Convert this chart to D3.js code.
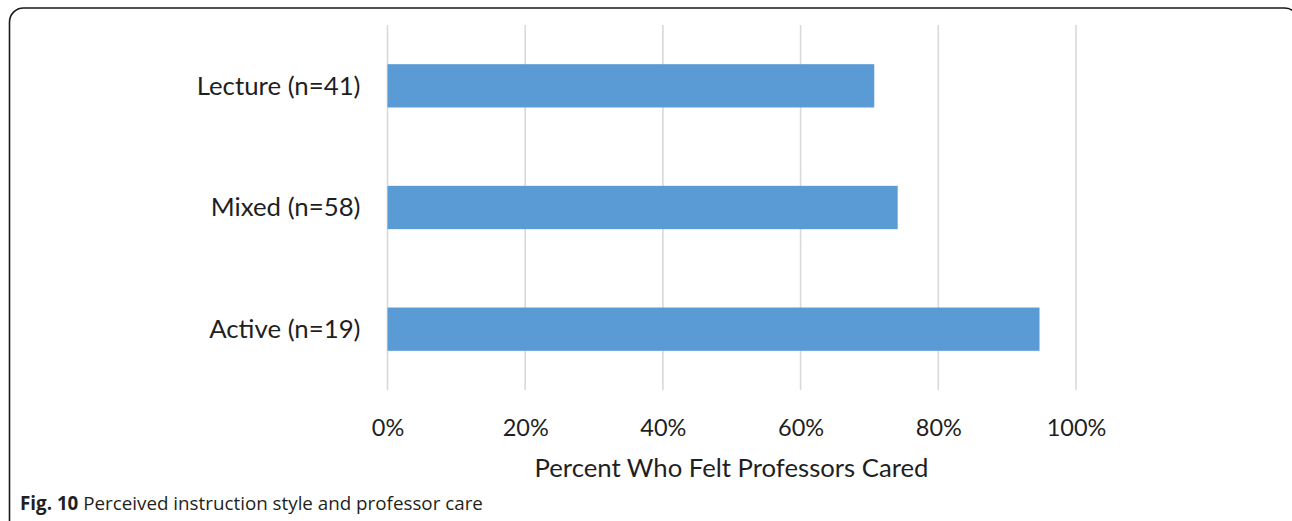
<!DOCTYPE html>
<html>
<head>
<meta charset="utf-8">
<script src="https://cdn.jsdelivr.net/npm/d3@7"></script>
<style>
  html, body { margin: 0; padding: 0; background: #fff; }
  svg { display: block; }
</style>
</head>
<body>
<svg id="chart" width="1292" height="521"></svg>
<script>
// Instruction style groups, top to bottom
const categories = ["Lecture (n=41)", "Mixed (n=58)", "Active (n=19)"];
// Share of students who felt professors cared (percent)
const percentCared = [70.7, 74.1, 94.7];
// Axis ticks
const tickValues = [0, 20, 40, 60, 80, 100];
const tickLabels = ["0%", "20%", "40%", "60%", "80%", "100%"];

const axisTitle = "Percent Who Felt Professors Cared";
const captionBold = "Fig. 10";
const captionText = " Perceived instruction style and professor care";

const svg = d3.select("#chart");

// Figure frame with rounded corners (right and bottom edges run past the page)
svg.append("rect")
  .attr("x", 9.5).attr("y", 8)
  .attr("width", 1289).attr("height", 540)
  .attr("rx", 14).attr("ry", 14)
  .attr("fill", "none")
  .attr("stroke", "#1a1a1a")
  .attr("stroke-width", 1.6);

const plot = { left: 387.5, right: 1076, top: 25, bottom: 390 };

const x = d3.scaleLinear().domain([0, 100]).range([plot.left, plot.right]);
const y = d3.scaleBand()
  .domain(categories)
  .range([plot.top, plot.bottom])
  .paddingInner(0.644)
  .paddingOuter(0.322);

const data = categories.map((c, i) => ({ cat: c, value: percentCared[i] }));

// Vertical gridlines
svg.append("g")
  .selectAll("line")
  .data(tickValues)
  .join("line")
  .attr("x1", d => x(d)).attr("x2", d => x(d))
  .attr("y1", plot.top).attr("y2", plot.bottom)
  .attr("stroke", "#d9d9d9")
  .attr("stroke-width", 1.6);

// Bars
svg.append("g")
  .selectAll("rect")
  .data(data)
  .join("rect")
  .attr("x", x(0))
  .attr("y", d => y(d.cat))
  .attr("width", d => x(d.value) - x(0))
  .attr("height", y.bandwidth())
  .attr("fill", "#5b9bd5");

const labelFont = "Lato, 'Open Sans', sans-serif";
const textColor = "#1f1f1f";

// Category axis labels
const yAxis = d3.axisLeft(y).tickSize(0).tickPadding(0);
const gy = svg.append("g")
  .attr("transform", `translate(${plot.left - 27},0)`)
  .call(yAxis);
gy.select(".domain").remove();
gy.selectAll("text")
  .attr("font-family", labelFont)
  .attr("font-size", 25.8)
  .attr("fill", textColor)
  .attr("dy", "0.34em");

// Value axis labels
const xAxis = d3.axisBottom(x)
  .tickValues(tickValues)
  .tickFormat((d, i) => tickLabels[i])
  .tickSize(0).tickPadding(0);
const gx = svg.append("g")
  .attr("transform", `translate(0,${plot.bottom + 46})`)
  .call(xAxis);
gx.select(".domain").remove();
gx.selectAll("text")
  .attr("font-family", labelFont)
  .attr("font-size", 23.5)
  .attr("fill", textColor)
  .attr("dy", 0);

// Axis title
svg.append("text")
  .attr("x", 731.5)
  .attr("y", 477)
  .attr("text-anchor", "middle")
  .attr("font-family", labelFont)
  .attr("font-size", 25.7)
  .attr("fill", textColor)
  .text(axisTitle);

// Figure caption
const cap = svg.append("text")
  .attr("x", 20)
  .attr("y", 510)
  .attr("font-family", "'Open Sans', 'Noto Sans', sans-serif")
  .attr("font-size", 18.8)
  .attr("fill", "#231f20");
cap.append("tspan").attr("font-weight", "bold").text(captionBold);
cap.append("tspan").text(captionText);
</script>
</body>
</html>
